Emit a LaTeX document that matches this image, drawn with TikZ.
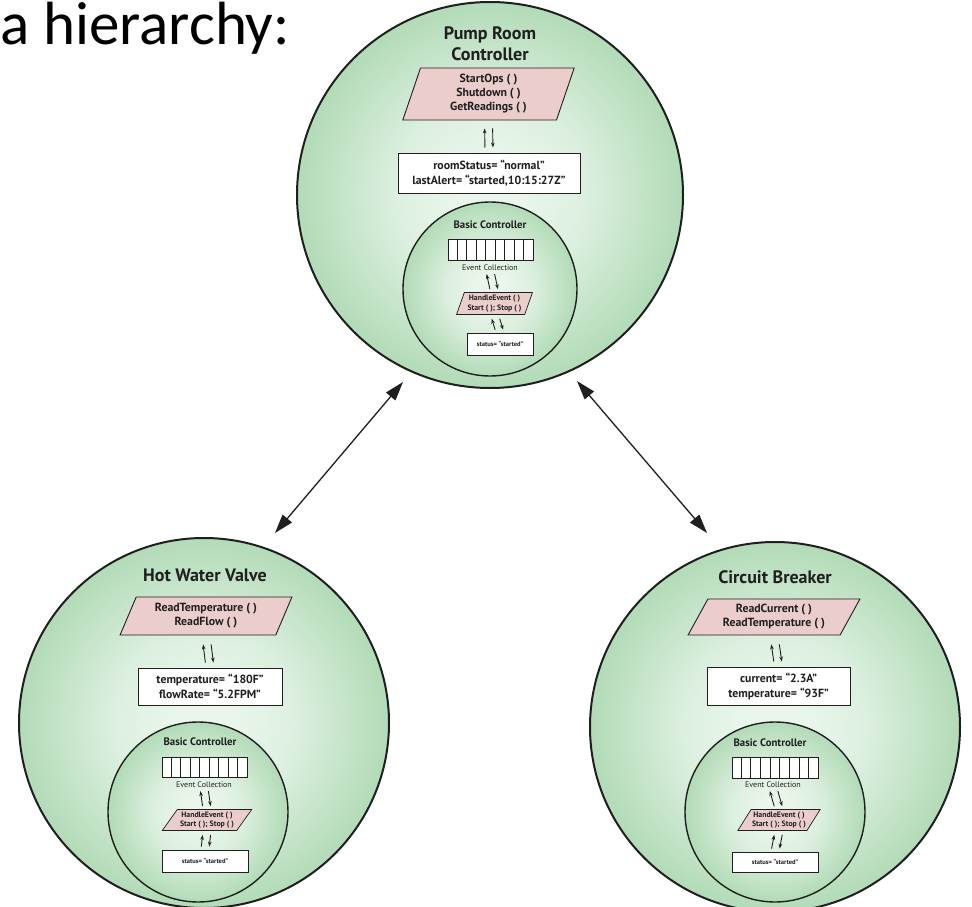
\documentclass[tikz,border=0pt]{standalone}
\usepackage{fontspec}
\setmainfont{PT Sans}
\newfontfamily\slidefont{Carlito}
\usetikzlibrary{arrows.meta,shapes.geometric,calc}

\definecolor{orbin}{HTML}{EAF6EC}
\definecolor{orbmid}{HTML}{DDF0E0}
\definecolor{orbout}{HTML}{B2DBB7}
\definecolor{methodfill}{HTML}{EBCDCB}
\definecolor{ink}{HTML}{1F1F1F}

% soft green ball: light centre fading to the rim
\pgfdeclareradialshading{orb}{\pgfpoint{0bp}{0bp}}{%
  color(0bp)=(orbin); color(4bp)=(orbin); color(12bp)=(orbmid); color(25bp)=(orbout); color(50bp)=(orbout)}

\begin{document}
\begin{tikzpicture}[x=1pt,y=-1pt,
  orb/.style={circle, draw=ink, line width=2pt, shading=orb, inner sep=0pt, minimum size=#1},
  inorb/.style={circle, draw=ink, line width=1.4pt, shading=orb, inner sep=0pt, minimum size=#1},
  bigtitle/.style={font=\bfseries\fontsize{18}{21}\selectfont, text=ink, align=center, inner sep=0pt},
  smalltitle/.style={font=\bfseries\fontsize{10.8}{12}\selectfont, text=ink, inner sep=0pt},
  method/.style={trapezium, trapezium stretches=true, draw=ink, line width=0.9pt, fill=methodfill,
    inner sep=1pt, text=ink, align=center},
  slant/.style={trapezium left angle=#1, trapezium right angle={180-#1}},
  state/.style={rectangle, draw=ink, line width=1pt, fill=white, inner sep=1pt, text=ink, align=center},
  bigtext/.style={font=\bfseries\fontsize{11.8}{15}\selectfont},
  smalltext/.style={font=\bfseries\fontsize{7.8}{9.5}\selectfont},
  tinytext/.style={font=\bfseries\fontsize{6.5}{8.5}\selectfont},
  queuelabel/.style={font=\fontsize{8}{9}\selectfont, text=ink, inner sep=0pt},
  queue/.style={rectangle, draw=ink, line width=0.8pt, fill=white, inner sep=0pt},
  pair/.style={-{Stealth[length=5pt,width=3.6pt]}, line width=0.9pt, draw=ink},
  link/.style={{Triangle[length=19pt,width=12pt]}-{Triangle[length=19pt,width=12pt]}, line width=1.3pt, draw=ink}
]
\useasboundingbox (0,0) rectangle (972,907);

% heading
\node[anchor=base west, font=\slidefont\fontsize{61}{64}\selectfont, inner sep=0pt] (head) at (0,45) {a hierarchy:};

% ---------- Pump Room Controller ----------
\node[orb=386pt] (prc) at (490,195) {};
\node[bigtitle] (prcT) at (490,44) {Pump Room\\Controller};
\node[method, slant=76, bigtext, minimum width=173pt, minimum height=52pt] (prcM) at (488.5,94)
  {StartOps ( )\\[-1pt]Shutdown ( )\\[-1pt]GetReadings ( )};
\node[state, bigtext, minimum width=182pt, minimum height=40pt] (prcS) at (489,173)
  {roomStatus= “normal”\\lastAlert= “started,10:15:27Z”};
\draw[pair, shorten <=5pt, shorten >=8pt] ([xshift=-4pt]prcS.north) -- ([xshift=-4pt]prcM.south);
\draw[pair, shorten <=8pt, shorten >=5pt] ([xshift=4pt]prcM.south) -- ([xshift=4pt]prcS.north);

\node[inorb=174pt] (prcB) at (490,289) {};
\node[smalltitle] (prcBT) at (490,225) {Basic Controller};
\node[queue, minimum width=85pt, minimum height=21pt] (prcQ) at (490.5,249.5) {};
\foreach \k in {1,...,8}
  \draw[ink, line width=0.8pt] ($(prcQ.north west)!\k/9!(prcQ.north east)$) -- ($(prcQ.south west)!\k/9!(prcQ.south east)$);
\node[queuelabel] (prcE) at (490,268) {Event Collection};
\node[method, slant=69, smalltext, minimum width=76pt, minimum height=22pt, line width=0.7pt] (prcH) at (494.5,303.5)
  {HandleEvent ( )\\Start ( ); Stop ( )};
\node[state, tinytext, minimum width=66pt, minimum height=22pt, line width=0.8pt] (prcR) at (500,344)
  {status= “started”};
\draw[pair, shorten <=3pt, shorten >=3pt] ([xshift=-4pt]prcH.north) -- ([xshift=-4pt]prcE.south);
\draw[pair, shorten <=3pt, shorten >=3pt] ([xshift=4pt]prcE.south) -- ([xshift=4pt]prcH.north);
\draw[pair, shorten <=3pt, shorten >=4pt] ([xshift=-4pt]prcR.north) -- ([xshift=-4pt]prcH.south);
\draw[pair, shorten <=4pt, shorten >=3pt] ([xshift=4pt]prcH.south) -- ([xshift=4pt]prcR.north);

% ---------- Hot Water Valve ----------
\node[orb=370pt] (hwv) at (204,723) {};
\node[bigtitle] (hwvT) at (205,575) {Hot Water Valve};
\node[method, slant=66, bigtext, minimum width=172pt, minimum height=38pt] (hwvM) at (206,616)
  {ReadTemperature ( )\\[-1pt]ReadFlow ( )};
\node[state, bigtext, minimum width=144pt, minimum height=37pt] (hwvS) at (210,686.5)
  {temperature= “180F”\\flowRate= “5.2FPM”};
\draw[pair, shorten <=5pt, shorten >=9pt] ([xshift=-4pt]hwvS.north) -- ([xshift=-4pt]hwvM.south);
\draw[pair, shorten <=9pt, shorten >=5pt] ([xshift=4pt]hwvM.south) -- ([xshift=4pt]hwvS.north);

\node[inorb=180pt] (hwvB) at (198,812) {};
\node[smalltitle] (hwvBT) at (200,742) {Basic Controller};
\node[queue, minimum width=85pt, minimum height=20pt] (hwvQ) at (204.5,767) {};
\foreach \k in {1,...,8}
  \draw[ink, line width=0.8pt] ($(hwvQ.north west)!\k/9!(hwvQ.north east)$) -- ($(hwvQ.south west)!\k/9!(hwvQ.south east)$);
\node[queuelabel] (hwvE) at (204,785) {Event Collection};
\node[method, slant=53, smalltext, minimum width=90pt, minimum height=21pt, line width=0.7pt] (hwvH) at (207,820)
  {HandleEvent ( )\\Start ( ); Stop ( )};
\node[state, tinytext, minimum width=86pt, minimum height=22pt, line width=0.8pt] (hwvR) at (205,861)
  {status= “started”};
\draw[pair, shorten <=3pt, shorten >=3pt] ([xshift=-4pt]hwvH.north) -- ([xshift=-4pt]hwvE.south);
\draw[pair, shorten <=3pt, shorten >=3pt] ([xshift=4pt]hwvE.south) -- ([xshift=4pt]hwvH.north);
\draw[pair, shorten <=3pt, shorten >=4pt] ([xshift=-4pt]hwvR.north) -- ([xshift=-4pt]hwvH.south);
\draw[pair, shorten <=4pt, shorten >=3pt] ([xshift=4pt]hwvH.south) -- ([xshift=4pt]hwvR.north);

% ---------- Circuit Breaker ----------
\node[orb=370pt] (cb) at (775,727) {};
\node[bigtitle] (cbT) at (775,577) {Circuit Breaker};
\node[method, slant=60, bigtext, minimum width=172pt, minimum height=36pt] (cbM) at (774,617)
  {ReadCurrent ( )\\[-1pt]ReadTemperature ( )};
\node[state, bigtext, minimum width=143pt, minimum height=38pt] (cbS) at (778.5,686)
  {current= “2.3A”\\temperature= “93F”};
\draw[pair, shorten <=5pt, shorten >=9pt] ([xshift=-4pt]cbS.north) -- ([xshift=-4pt]cbM.south);
\draw[pair, shorten <=9pt, shorten >=5pt] ([xshift=4pt]cbM.south) -- ([xshift=4pt]cbS.north);

\node[inorb=180pt] (cbB) at (775,812) {};
\node[smalltitle] (cbBT) at (770,743) {Basic Controller};
\node[queue, minimum width=86pt, minimum height=21pt] (cbQ) at (775,767.5) {};
\foreach \k in {1,...,8}
  \draw[ink, line width=0.8pt] ($(cbQ.north west)!\k/9!(cbQ.north east)$) -- ($(cbQ.south west)!\k/9!(cbQ.south east)$);
\node[queuelabel] (cbE) at (773,785) {Event Collection};
\node[method, slant=55, smalltext, minimum width=82pt, minimum height=21pt, line width=0.7pt] (cbH) at (779,820)
  {HandleEvent ( )\\Start ( ); Stop ( )};
\node[state, tinytext, minimum width=86pt, minimum height=20pt, line width=0.8pt] (cbR) at (775,862)
  {status= “started”};
\draw[pair, shorten <=3pt, shorten >=3pt] ([xshift=-4pt]cbH.north) -- ([xshift=-4pt]cbE.south);
\draw[pair, shorten <=3pt, shorten >=3pt] ([xshift=4pt]cbE.south) -- ([xshift=4pt]cbH.north);
\draw[pair, shorten <=3pt, shorten >=4pt] ([xshift=-4pt]cbR.north) -- ([xshift=-4pt]cbH.south);
\draw[pair, shorten <=4pt, shorten >=3pt] ([xshift=4pt]cbH.south) -- ([xshift=4pt]cbR.north);

% ---------- links between the controllers ----------
\coordinate (linkLtop) at (403,382);
\coordinate (linkLbot) at (275,533);
\coordinate (linkRtop) at (577,381);
\coordinate (linkRbot) at (707,533);
\draw[link] (linkLtop) -- (linkLbot);
\draw[link] (linkRtop) -- (linkRbot);
\end{tikzpicture}
\end{document}
